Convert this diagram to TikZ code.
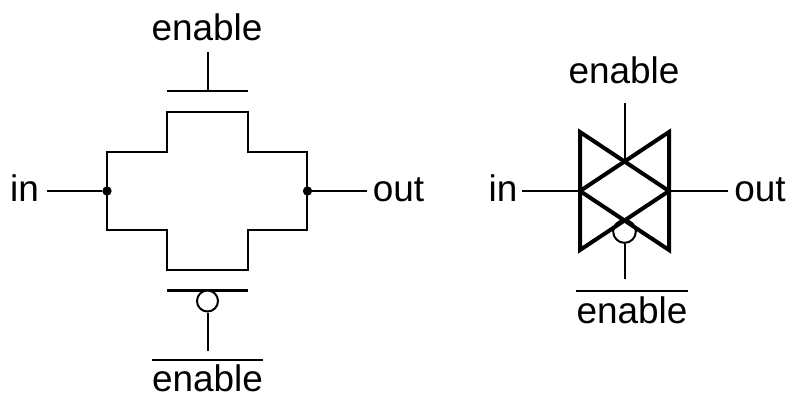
\documentclass[tikz,border=0pt]{standalone}
\usepackage{fontspec}
\setmainfont{Liberation Sans}
\tikzset{
  label text/.style={font=\fontsize{27.7}{30}\selectfont, anchor=base, inner sep=0pt, black},
  wire/.style={line width=1.5pt, black},
  gate plate/.style={line width=2pt, black},
  channel/.style={line width=1.9pt, black, line join=miter},
  tri edge/.style={line width=3pt, black, line join=miter, line cap=round},
  junction dot/.style={circle, fill=black, inner sep=0pt, minimum size=7pt},
  bubble/.style={circle, draw=black, fill=white, inner sep=0pt, line width=1.5pt}
}
\begin{document}
\begin{tikzpicture}[x=0.75pt,y=-0.75pt]
  \useasboundingbox (0,0) rectangle (800,404);
  % Transistor pair: gates
  \coordinate (gateTL) at (167,91);
  \coordinate (gateTR) at (248,91);
  \coordinate (gateTM) at (207.5,91);
  \coordinate (stubT) at (207.5,52);
  \draw[gate plate] (gateTL) -- (gateTR);
  \draw[wire] (stubT) -- (gateTM);
  \coordinate (gateBL) at (167,290.5);
  \coordinate (gateBR) at (248,290.5);
  \coordinate (stubB) at (207.5,351);
  \draw[gate plate] (gateBL) -- (gateBR);
  \node[bubble, minimum size=15.75pt] (bubL) at (207.5,301) {};
  \draw[wire] (bubL) -- (stubB);
  % Transistor pair: channels
  \draw[channel] (107,230) -- (107,152) -- (167,152) -- (167,112) -- (248,112)
    -- (248,152) -- (307,152) -- (307,230) -- (248,230) -- (248,270) -- (167,270)
    -- (167,230) -- cycle;
  \node[junction dot] (dotL) at (107,191) {};
  \node[junction dot] (dotR) at (307.5,191) {};
  \coordinate (inL) at (47,191);
  \coordinate (outL) at (367,191);
  \draw[wire] (inL) -- (dotL);
  \draw[wire] (dotR) -- (outL);
  % Labels on the left
  \node[label text] (enT) at (207,40) {enable};
  \node[label text] (enB) at (207.5,391) {enable};
  \draw[wire] (152,360) coordinate (ovlA) -- (263,360) coordinate (ovlB);
  \node[label text] (inLab) at (24.5,201) {in};
  \node[label text] (outLab) at (398.5,201) {out};
  % Transmission gate symbol
  \coordinate (tl) at (580,132);
  \coordinate (tr) at (669,132);
  \coordinate (ml) at (580,191);
  \coordinate (mr) at (669,191);
  \coordinate (bl) at (580,250);
  \coordinate (br) at (669,250);
  \coordinate (crossT) at (624.5,162);
  \coordinate (stubR) at (624.5,103);
  \coordinate (stubS) at (624.5,279);
  \coordinate (inR) at (522,191);
  \coordinate (outR) at (728,191);
  \node[bubble, minimum size=17pt] (bubR) at (624.5,231.5) {};
  \draw[wire] (bubR) -- (stubS);
  \draw[wire] (stubR) -- (crossT);
  \draw[wire] (inR) -- (ml);
  \draw[wire] (mr) -- (outR);
  \draw[tri edge] (tl) -- (bl) -- (mr) -- cycle;
  \draw[tri edge] (tr) -- (br) -- (ml) -- cycle;
  % Labels on the right
  \node[label text] (enTR) at (624,83) {enable};
  \node[label text] (enBR) at (632,323) {enable};
  \draw[wire] (576,291) coordinate (ovlC) -- (688,291) coordinate (ovlD);
  \node[label text] (inLabR) at (503,201) {in};
  \node[label text] (outLabR) at (760,201) {out};
\end{tikzpicture}
\end{document}
